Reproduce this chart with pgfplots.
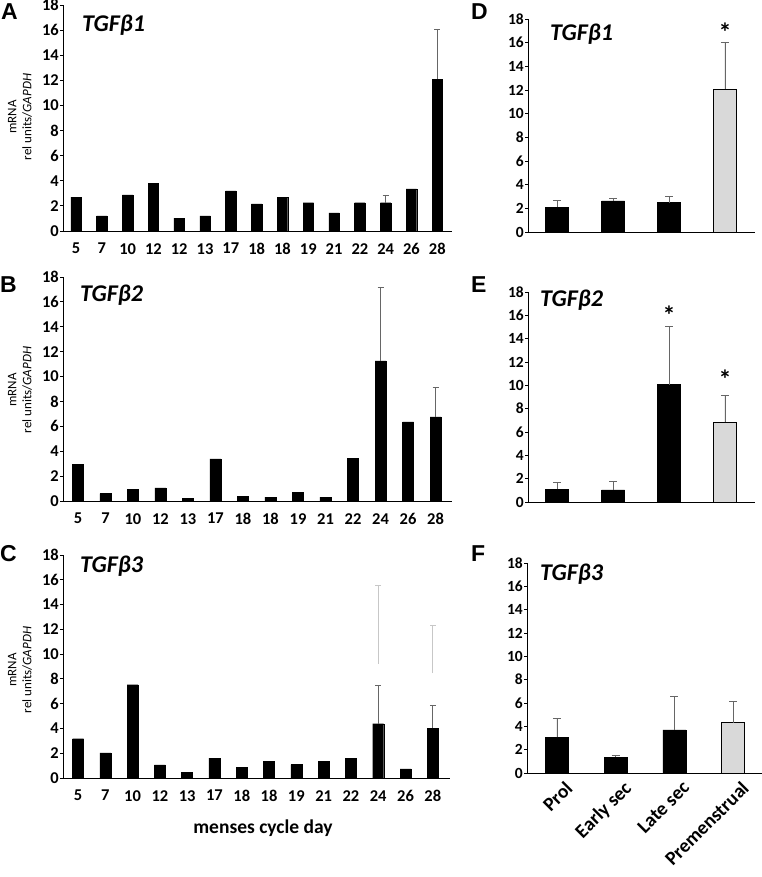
\documentclass[border=0pt]{standalone}
\usepackage{pgfplots}
\pgfplotsset{compat=1.18}
\usepackage{fontspec}
\setmainfont{Carlito}
\newfontfamily\arialfont{Liberation Sans}
\definecolor{errgray}{gray}{0.4}
\definecolor{premgray}{gray}{0.85}
\definecolor{ghostgray}{gray}{0.78}

\tikzset{sigstar/.style={font=\fontsize{26}{26}\selectfont\bfseries, anchor=base, inner sep=0pt}}

\pgfplotsset{
  panel/.style={
    scale only axis,
    axis lines=left,
    axis line style={-, line width=0.9pt},
    ymin=0, ymax=18,
    ytick={0,2,...,18},
    tick align=outside,
    major tick length=3pt,
    ytick style={line width=0.8pt, black},
    xtick style={draw=none},
    /pgf/number format/assume math mode=true,
    tick label style={font=\fontsize{16.5}{16.5}\selectfont\bfseries, inner sep=1pt},
    xticklabel style={yshift=-8pt},
    clip=false,
  },
  rpanel/.style={panel, yticklabel style={font=\fontsize{15.5}{15.5}\selectfont\bfseries}},
  errbars/.style={error bars/.cd, y dir=plus, y explicit,
    error bar style={errgray, line width=0.9pt},
    error mark options={rotate=90, mark size=#1, errgray, line width=0.9pt}},
  errbars/.default=3pt,
}

\begin{document}
\begin{tikzpicture}[x=1pt, y=1pt]
\useasboundingbox (0pt,0pt) rectangle (762pt,877pt);

% ---------------- A ----------------
\begin{axis}[panel, at={(63pt,646pt)}, anchor=south west, width=389pt, height=226pt,
  xmin=-0.504, xmax=14.57, xtick={0,...,14},
  xticklabels={5,7,10,12,12,13,17,18,18,19,21,22,24,26,28}]
\addplot[ybar, bar width=10.5pt, bar shift=0pt, fill=black, draw=black] coordinates {
(0,2.7) (1,1.2) (2,2.87) (3,3.8) (4,1.03) (5,1.2) (6,3.2) (7,2.15) (8,2.7)
(9,2.25) (10,1.45) (11,2.25) (13,3.35)};
\addplot[ybar, bar width=10.5pt, bar shift=0pt, fill=black, draw=black, errbars=3pt] coordinates {
(12,2.25) +- (0,0.62) (14,12.1) +- (0,3.95)};
\end{axis}

% ---------------- B ----------------
\begin{axis}[panel, at={(63pt,376pt)}, anchor=south west, width=389pt, height=224pt,
  xmin=-0.545, xmax=13.6, xtick={0,...,13},
  xticklabels={5,7,10,12,13,17,18,18,19,21,22,24,26,28}]
\addplot[ybar, bar width=11pt, bar shift=0pt, fill=black, draw=black] coordinates {
(0,2.92) (1,0.59) (2,0.91) (3,1.05) (4,0.24) (5,3.38) (6,0.40) (7,0.32)
(8,0.67) (9,0.32) (10,3.43) (12,6.35)};
\addplot[ybar, bar width=11pt, bar shift=0pt, fill=black, draw=black, errbars=3pt] coordinates {
(11,11.26) +- (0,5.87) (13,6.76) +- (0,2.36)};
\end{axis}

% ---------------- C ----------------
\begin{axis}[panel, at={(63pt,99pt)}, anchor=south west, width=387pt, height=223pt,
  xmin=-0.55, xmax=13.63, xtick={0,...,13},
  xticklabels={5,7,10,12,13,17,18,18,19,21,22,24,26,28}]
\addplot[ghostgray, line width=0.9pt, mark=-, mark size=3pt, mark indices={2}] coordinates {(11,9.22) (11,15.54)};
\addplot[ghostgray, line width=0.9pt, mark=-, mark size=3pt, mark indices={2}] coordinates {(13,8.47) (13,12.3)};
\addplot[ybar, bar width=11pt, bar shift=0pt, fill=black, draw=black] coordinates {
(0,3.17) (1,2.02) (2,7.53) (3,1.05) (4,0.48) (5,1.61) (6,0.86) (7,1.34)
(8,1.08) (9,1.34) (10,1.56) (12,0.73)};
\addplot[ybar, bar width=11pt, bar shift=0pt, fill=black, draw=black, errbars=3pt] coordinates {
(11,4.38) +- (0,3.09) (13,4.03) +- (0,1.86)};
\end{axis}

% ---------------- D ----------------
\begin{axis}[rpanel, at={(528pt,645pt)}, anchor=south west, width=227pt, height=213pt,
  xmin=-0.518, xmax=3.536, xtick={0,...,3}, xticklabels={}]
\addplot[ybar, bar width=23pt, bar shift=0pt, fill=black, draw=black, errbars=4pt] coordinates {
(0,2.11) +- (0,0.57) (1,2.62) +- (0,0.23) (2,2.48) +- (0,0.53)};
\addplot[ybar, bar width=23pt, bar shift=0pt, fill=premgray, draw=black, line width=0.9pt, errbars=4pt] coordinates {
(3,12.08) +- (0,3.95)};
\node[sigstar] at (axis cs:3,16.1) {*};
\end{axis}

% ---------------- E ----------------
\begin{axis}[rpanel, at={(528pt,375pt)}, anchor=south west, width=227pt, height=210pt,
  xmin=-0.518, xmax=3.536, xtick={0,...,3}, xticklabels={}]
\addplot[ybar, bar width=23pt, bar shift=0pt, fill=black, draw=black, errbars=4pt] coordinates {
(0,1.09) +- (0,0.57) (1,1.03) +- (0,0.71) (2,10.06) +- (0,4.97)};
\addplot[ybar, bar width=23pt, bar shift=0pt, fill=premgray, draw=black, line width=0.9pt, errbars=4pt] coordinates {
(3,6.83) +- (0,2.31)};
\node[sigstar] at (axis cs:2,15.25) {*};
\node[sigstar] at (axis cs:3,9.7) {*};
\end{axis}

% ---------------- F ----------------
\begin{axis}[rpanel, at={(527pt,104pt)}, anchor=south west, width=235pt, height=210pt,
  xmin=-0.51, xmax=3.49, xtick={0,...,3},
  xticklabels={Prol, Early sec, Late sec, Premenstrual},
  xticklabel style={font=\fontsize{19.5}{19.5}\selectfont\bfseries, rotate=45, anchor=north east, yshift=-1pt, xshift=9pt}]
\addplot[ybar, bar width=23pt, bar shift=0pt, fill=black, draw=black, errbars=4pt] coordinates {
(0,3.06) +- (0,1.65) (1,1.37) +- (0,0.17) (2,3.69) +- (0,2.85)};
\addplot[ybar, bar width=23pt, bar shift=0pt, fill=premgray, draw=black, line width=0.9pt, errbars=4pt] coordinates {
(3,4.31) +- (0,1.83)};
\end{axis}

% ---------------- texts ----------------
\tikzset{lett/.style={anchor=base west, inner sep=0pt, font=\arialfont\bfseries\fontsize{23}{23}\selectfont},
         ttl/.style={anchor=base west, inner sep=0pt, font=\fontsize{24}{24}\selectfont\bfseries\itshape},
         ylab/.style={rotate=90, align=center, inner sep=0pt, font=\fontsize{13}{15}\selectfont}}
\node[lett] at (1pt,857pt) {A};
\node[lett] at (0pt,584pt) {B};
\node[lett] at (0pt,315pt) {C};
\node[lett] at (471pt,857pt) {D};
\node[lett] at (471pt,584pt) {E};
\node[lett] at (471pt,315pt) {F};

\node[ttl] at (82pt,845pt) {TGFβ1};
\node[ttl] at (80pt,575pt) {TGFβ2};
\node[ttl] at (80pt,304pt) {TGFβ3};
\node[ttl] at (550pt,836pt) {TGFβ1};
\node[ttl] at (540pt,570pt) {TGFβ2};
\node[ttl] at (540pt,296pt) {TGFβ3};

\node[ylab] at (20pt,760pt) {mRNA\\rel units/\textit{GAPDH}};
\node[ylab] at (20pt,487pt) {mRNA\\rel units/\textit{GAPDH}};
\node[ylab] at (20pt,207pt) {mRNA\\rel units/\textit{GAPDH}};

\node[font=\fontsize{19.5}{20}\selectfont\bfseries] at (263pt,49pt) {menses cycle day};
\end{tikzpicture}
\end{document}
